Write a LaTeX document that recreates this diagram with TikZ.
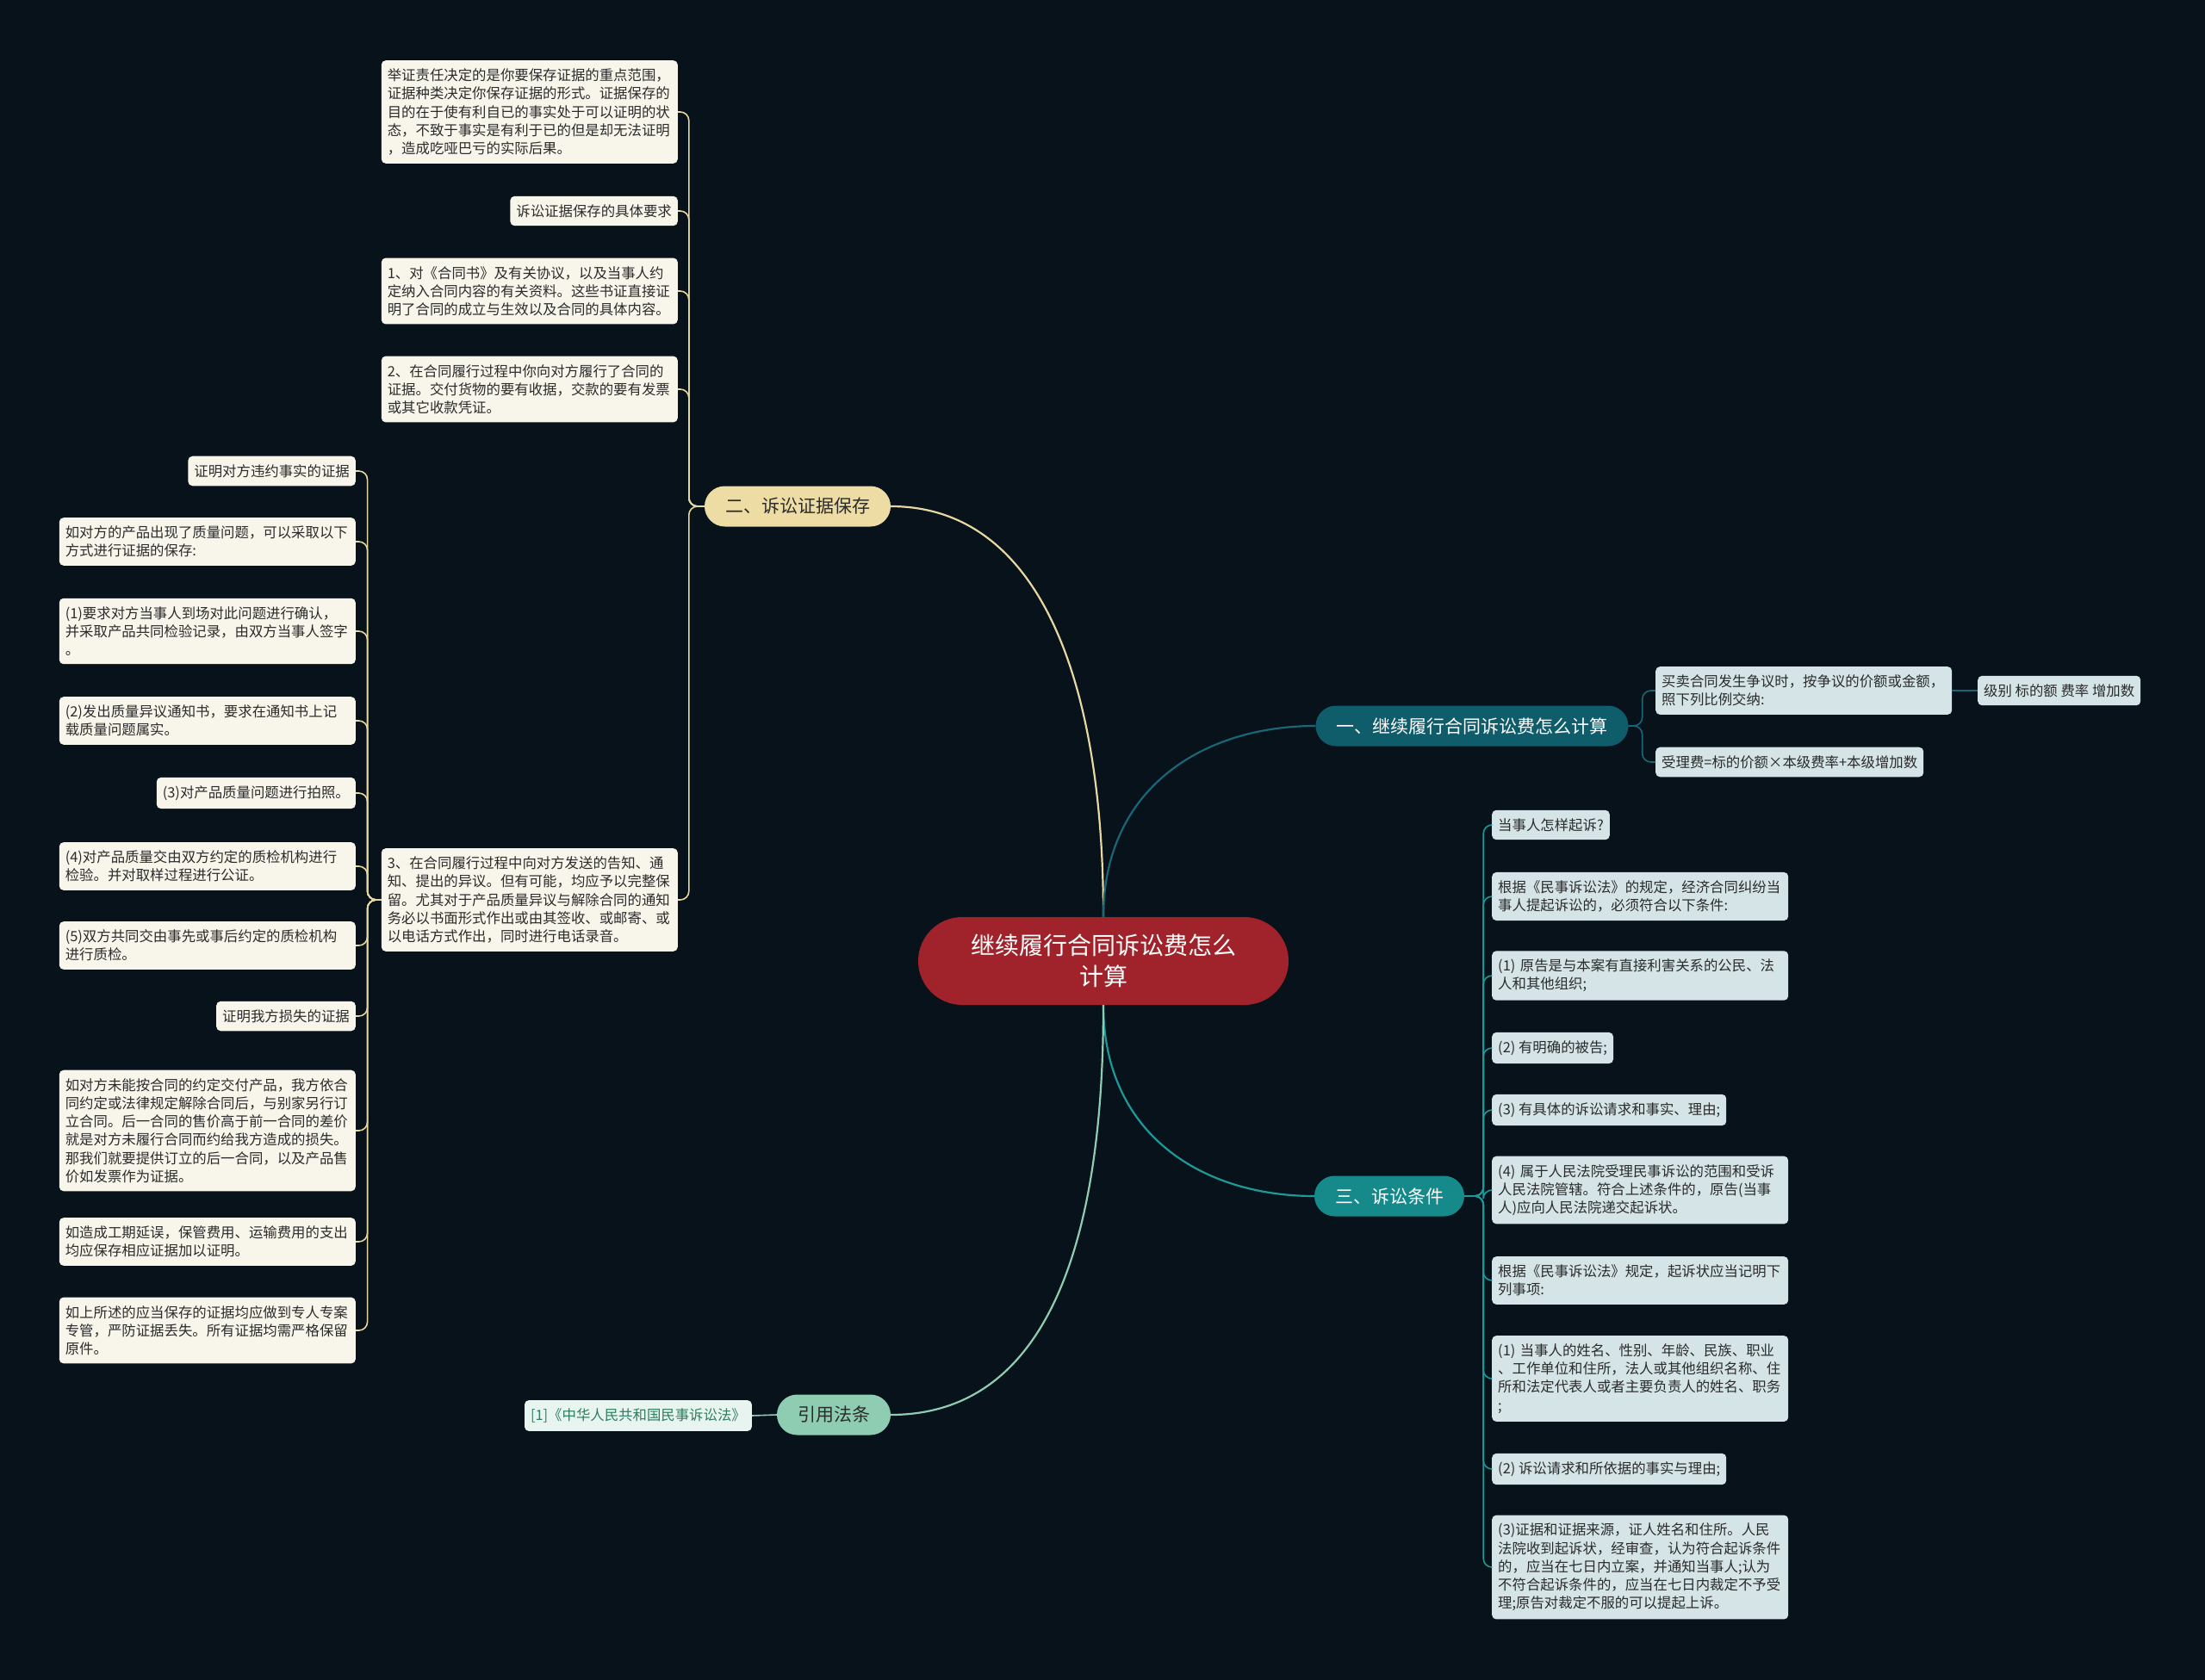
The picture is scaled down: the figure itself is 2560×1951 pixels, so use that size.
\documentclass[tikz,border=0pt]{standalone}
\usepackage{fontspec}
\setmainfont{Noto Sans CJK SC}
\definecolor{bgc}{RGB}{7,18,26}
\definecolor{centerc}{HTML}{A0222A}
\definecolor{bonec}{HTML}{0F5C6B}
\definecolor{bonel}{HTML}{1B6676}
\definecolor{bthreec}{HTML}{16898B}
\definecolor{bthreel}{HTML}{1C9A9A}
\definecolor{btwoc}{HTML}{EEDCA5}
\definecolor{btwol}{HTML}{E8D7A0}
\definecolor{brefc}{HTML}{8FCDB3}
\definecolor{leafy}{HTML}{F8F5EB}
\definecolor{leafb}{HTML}{D4E4E7}
\definecolor{leafr}{HTML}{E7F4EF}
\definecolor{reftext}{HTML}{2E7D5E}
\definecolor{darktext}{HTML}{2B2B2B}
\newcommand\leaffont{\fontsize{16.4}{21.2}\selectfont}
\newcommand\branchfont{\fontsize{21}{26}\selectfont}
\tikzset{
  leafbox/.style={draw=none, rounded corners=5pt, inner xsep=7pt, inner ysep=9.6pt, font=\leaffont, align=left, text=darktext},
  leafY/.style={leafbox, fill=leafy},
  leafB/.style={leafbox, fill=leafb},
  leafR/.style={leafbox, fill=leafr, text=reftext},
  wide/.style={text width=330pt},
  branchbox/.style={draw=none, rounded corners=23.5pt, minimum height=47pt, inner xsep=24pt, inner ysep=0pt, font=\branchfont},
  mainline/.style={line width=2.2pt},
  subline/.style={line width=1.6pt, rounded corners=10pt},
}
\begin{document}
\begin{tikzpicture}[x=1pt,y=-1pt]
\fill[bgc] (0,0) rectangle (2560,1951);
\useasboundingbox (0,0) rectangle (2560,1951);

% center
\node[draw=none, fill=centerc, text=white, rounded corners=51pt, minimum width=430pt, minimum height=102pt, align=center, font=\fontsize{28}{36}\selectfont, inner sep=0pt] (c) at (1281,1116) {继续履行合同诉讼费怎么\\计算};

% branches
\node[branchbox, fill=bonec, text=white] (b1) at (1709,843) {一、继续履行合同诉讼费怎么计算};
\node[branchbox, fill=btwoc, text=darktext] (b2) at (926,588) {二、诉讼证据保存};
\node[branchbox, fill=bthreec, text=white] (b3) at (1613,1389) {三、诉讼条件};
\node[branchbox, fill=brefc, text=darktext] (bref) at (968,1643) {引用法条};

% main curves
\draw[mainline, btwol] (c.north) .. controls +(0,-280) and +(170,0) .. (b2.east);
\draw[mainline, bonel] (c.north) .. controls +(0,-150) and +(-130,0) .. (b1.west);
\draw[mainline, bthreel] (c.south) .. controls +(0,150) and +(-130,0) .. (b3.west);
\draw[mainline, brefc] (c.south) .. controls +(0,300) and +(170,0) .. (bref.east);

% branch 1 children
\node[leafB, wide, anchor=west] (o1) at (1922,802) {买卖合同发生争议时，按争议的价额或金额，\\照下列比例交纳:};
\node[leafB, anchor=west] (o2) at (2296,802) {级别 标的额 费率 增加数};
\node[leafB, anchor=west] (o3) at (1922,885) {受理费=标的价额×本级费率+本级增加数};
\foreach \n in {o1,o3} \draw[subline, bonel] (b1.east) -- ++(16,0) |- (\n.west);
\draw[subline, bonel] (o1.east) -- (o2.west);

% branch 2 children
\node[leafY, wide, anchor=east] (t1) at (787,130) {举证责任决定的是你要保存证据的重点范围，\\证据种类决定你保存证据的形式。证据保存的\\目的在于使有利自已的事实处于可以证明的状\\态，不致于事实是有利于已的但是却无法证明\\，造成吃哑巴亏的实际后果。};
\node[leafY, anchor=east] (t2) at (787,245) {诉讼证据保存的具体要求};
\node[leafY, wide, anchor=east] (t3) at (787,338) {1、对《合同书》及有关协议，以及当事人约\\定纳入合同内容的有关资料。这些书证直接证\\明了合同的成立与生效以及合同的具体内容。};
\node[leafY, wide, anchor=east] (t4) at (787,452) {2、在合同履行过程中你向对方履行了合同的\\证据。交付货物的要有收据，交款的要有发票\\或其它收款凭证。};
\node[leafY, wide, anchor=east] (t5) at (787,1045) {3、在合同履行过程中向对方发送的告知、通\\知、提出的异议。但有可能，均应予以完整保\\留。尤其对于产品质量异议与解除合同的通知\\务必以书面形式作出或由其签收、或邮寄、或\\以电话方式作出，同时进行电话录音。};
\foreach \n in {t1,t2,t3,t4,t5} \draw[subline, btwol] (b2.west) -- ++(-18,0) |- (\n.east);

% children of t5
\node[leafY, anchor=east] (l1) at (413,547) {证明对方违约事实的证据};
\node[leafY, wide, anchor=east] (l2) at (413,629) {如对方的产品出现了质量问题，可以采取以下\\方式进行证据的保存:};
\node[leafY, wide, anchor=east] (l3) at (413,733) {(1)要求对方当事人到场对此问题进行确认，\\并采取产品共同检验记录，由双方当事人签字\\。};
\node[leafY, wide, anchor=east] (l4) at (413,837) {(2)发出质量异议通知书，要求在通知书上记\\载质量问题属实。};
\node[leafY, anchor=east] (l5) at (413,921) {(3)对产品质量问题进行拍照。};
\node[leafY, wide, anchor=east] (l6) at (413,1006) {(4)对产品质量交由双方约定的质检机构进行\\检验。并对取样过程进行公证。};
\node[leafY, wide, anchor=east] (l7) at (413,1098) {(5)双方共同交由事先或事后约定的质检机构\\进行质检。};
\node[leafY, anchor=east] (l8) at (413,1180) {证明我方损失的证据};
\node[leafY, wide, anchor=east] (l9) at (413,1313) {如对方未能按合同的约定交付产品，我方依合\\同约定或法律规定解除合同后，与别家另行订\\立合同。后一合同的售价高于前一合同的差价\\就是对方未履行合同而约给我方造成的损失。\\那我们就要提供订立的后一合同，以及产品售\\价如发票作为证据。};
\node[leafY, wide, anchor=east] (l10) at (413,1442) {如造成工期延误，保管费用、运输费用的支出\\均应保存相应证据加以证明。};
\node[leafY, wide, anchor=east] (l11) at (413,1545) {如上所述的应当保存的证据均应做到专人专案\\专管，严防证据丢失。所有证据均需严格保留\\原件。};
\foreach \n in {l1,l2,l3,l4,l5,l6,l7,l8,l9,l10,l11} \draw[subline, btwol] (t5.west) -- ++(-16,0) |- (\n.east);

% branch 3 children
\node[leafB, anchor=west] (s1) at (1732,958) {当事人怎样起诉?};
\node[leafB, wide, anchor=west] (s2) at (1732,1041) {根据《民事诉讼法》的规定，经济合同纠纷当\\事人提起诉讼的，必须符合以下条件:};
\node[leafB, wide, anchor=west] (s3) at (1732,1133) {(1) 原告是与本案有直接利害关系的公民、法\\人和其他组织;};
\node[leafB, anchor=west] (s4) at (1732,1217) {(2) 有明确的被告;};
\node[leafB, anchor=west] (s5) at (1732,1289) {(3) 有具体的诉讼请求和事实、理由;};
\node[leafB, wide, anchor=west] (s6) at (1732,1382) {(4) 属于人民法院受理民事诉讼的范围和受诉\\人民法院管辖。符合上述条件的，原告(当事\\人)应向人民法院递交起诉状。};
\node[leafB, wide, anchor=west] (s7) at (1732,1487) {根据《民事诉讼法》规定，起诉状应当记明下\\列事项:};
\node[leafB, wide, anchor=west] (s8) at (1732,1601) {(1) 当事人的姓名、性别、年龄、民族、职业\\、工作单位和住所，法人或其他组织名称、住\\所和法定代表人或者主要负责人的姓名、职务\\;};
\node[leafB, anchor=west] (s9) at (1732,1706) {(2) 诉讼请求和所依据的事实与理由;};
\node[leafB, wide, anchor=west] (s10) at (1732,1820) {(3)证据和证据来源，证人姓名和住所。人民\\法院收到起诉状，经审查，认为符合起诉条件\\的，应当在七日内立案，并通知当事人;认为\\不符合起诉条件的，应当在七日内裁定不予受\\理;原告对裁定不服的可以提起上诉。};
\foreach \n in {s1,s2,s3,s4,s5,s6,s7,s8,s9,s10} \draw[subline, bthreel] (b3.east) -- ++(22,0) |- (\n.west);

% reference
\node[leafR, anchor=east] (r1) at (873,1644) {[1]《中华人民共和国民事诉讼法》};
\draw[subline, brefc] (bref.west) -- (r1.east);
\end{tikzpicture}
\end{document}
